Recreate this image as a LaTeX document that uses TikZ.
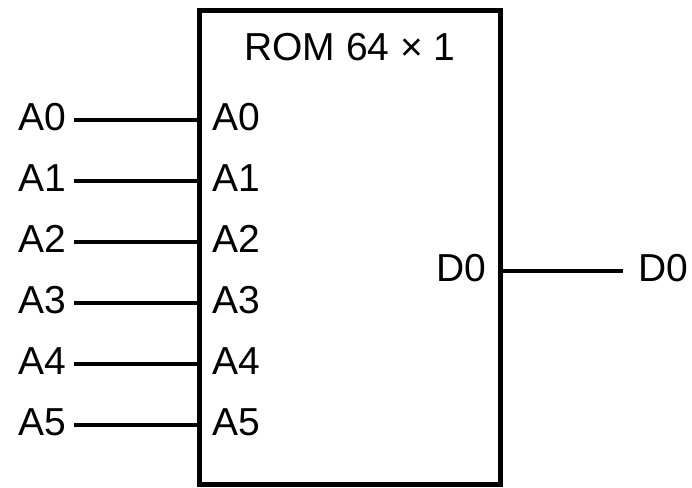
\documentclass[tikz,border=0pt]{standalone}
\usepackage{fontspec}
\setmainfont{Liberation Sans}
\usetikzlibrary{positioning}

\begin{document}
\begin{tikzpicture}[x=1pt,y=-1pt]
		\tikzstyle{every node}+=[inner sep=0pt, font=\fontsize{39}{46}\selectfont]
		\tikzstyle{wire}=[black, line width=4pt]
		\tikzstyle{pinname}=[anchor=west, yshift=3pt]
		\tikzstyle{signame}=[yshift=3pt]
		\useasboundingbox (0,0) rectangle (692,487);
		% ROM block
		\node [draw=black, line width=5pt, minimum width=301pt, minimum height=473pt] (rom) at (349.5,247.5) {};
		\node (title) at (350,47) {ROM 64 × 1};
		% address pins
		\coordinate (s0) at (74,120);
		\coordinate (s1) at (74,181);
		\coordinate (s2) at (74,242);
		\coordinate (s3) at (74,303);
		\coordinate (s4) at (74,364);
		\coordinate (s5) at (74,425);
		\node [signame, left=8pt of s0] (in0) {A0};
		\node [signame, left=8pt of s1] (in1) {A1};
		\node [signame, left=8pt of s2] (in2) {A2};
		\node [signame, left=8pt of s3] (in3) {A3};
		\node [signame, left=8pt of s4] (in4) {A4};
		\node [signame, left=8pt of s5] (in5) {A5};
		\node [pinname] (pa0) at ([xshift=16pt]rom.west |- s0) {A0};
		\node [pinname] (pa1) at ([xshift=16pt]rom.west |- s1) {A1};
		\node [pinname] (pa2) at ([xshift=16pt]rom.west |- s2) {A2};
		\node [pinname] (pa3) at ([xshift=16pt]rom.west |- s3) {A3};
		\node [pinname] (pa4) at ([xshift=16pt]rom.west |- s4) {A4};
		\node [pinname] (pa5) at ([xshift=16pt]rom.west |- s5) {A5};
		\draw [wire] (s0) -- (rom.west |- s0);
		\draw [wire] (s1) -- (rom.west |- s1);
		\draw [wire] (s2) -- (rom.west |- s2);
		\draw [wire] (s3) -- (rom.west |- s3);
		\draw [wire] (s4) -- (rom.west |- s4);
		\draw [wire] (s5) -- (rom.west |- s5);
		% data output
		\coordinate (t0) at (623,271);
		\node [signame, anchor=east] (pd0) at ([xshift=-16pt]rom.east |- t0) {D0};
		\node [signame, right=15pt of t0] (out0) {D0};
		\draw [wire] (rom.east |- t0) -- (t0);
\end{tikzpicture}
\end{document}
